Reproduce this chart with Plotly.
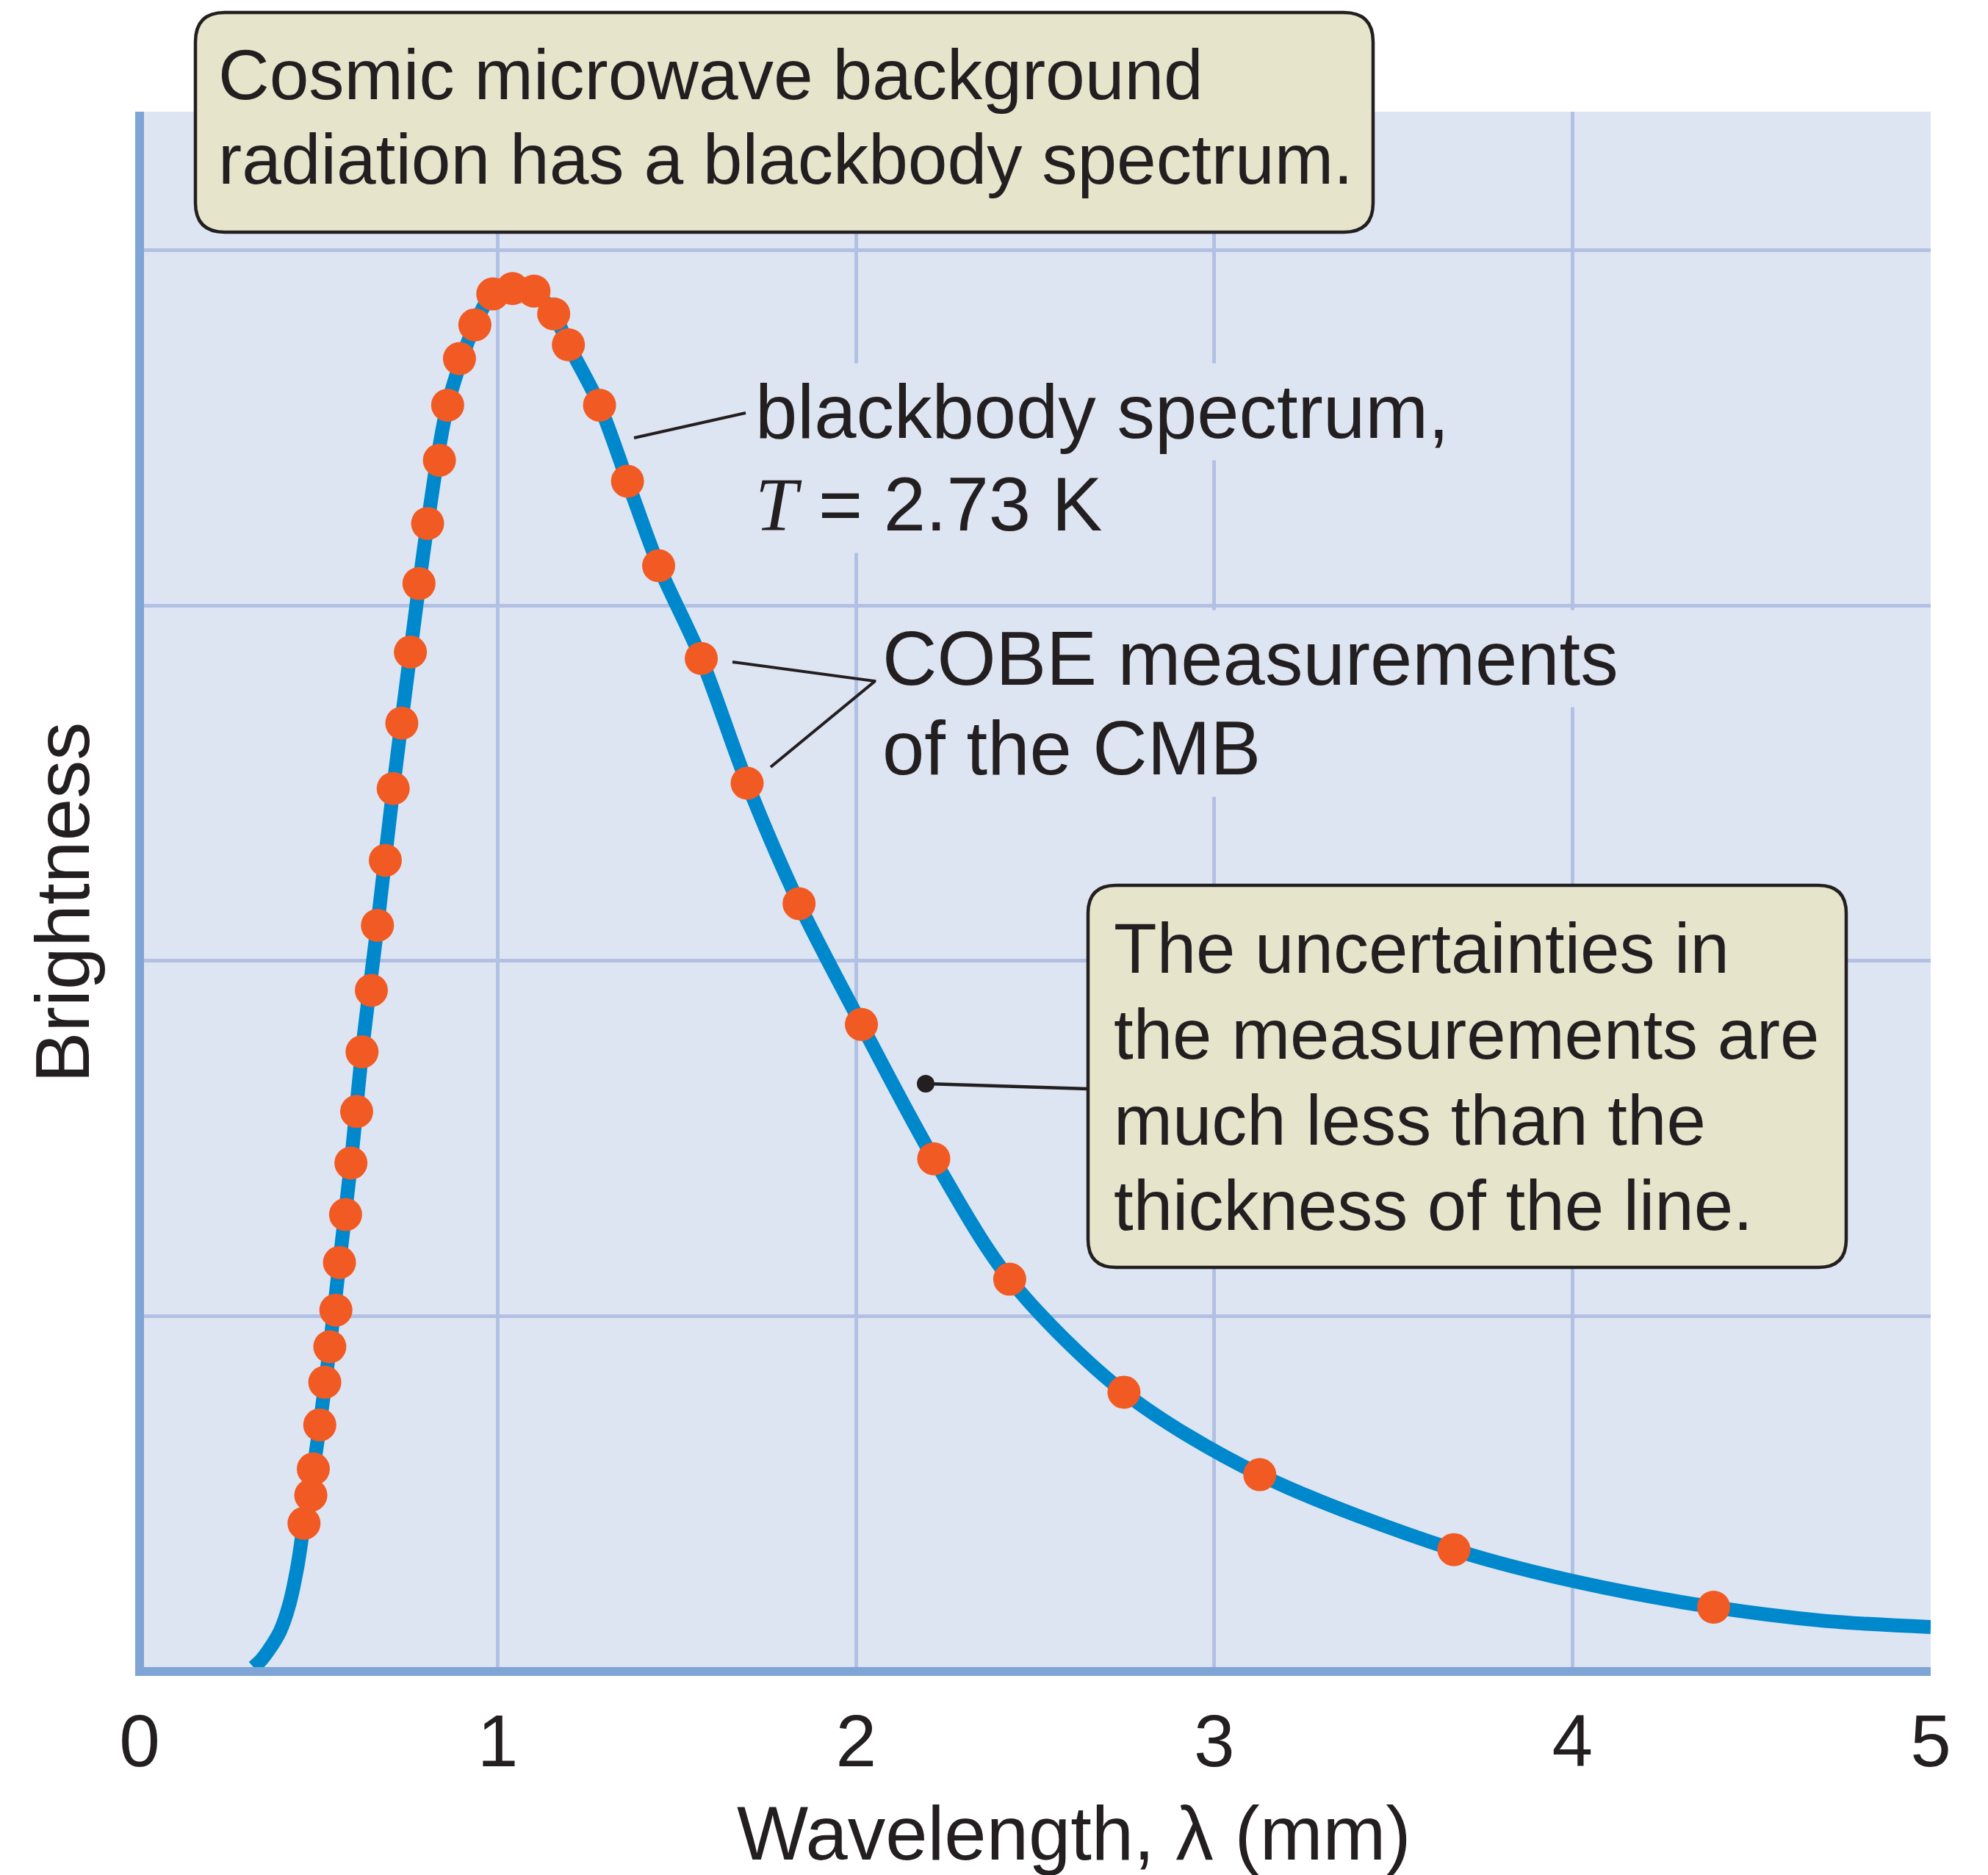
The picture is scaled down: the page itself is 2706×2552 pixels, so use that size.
import plotly.graph_objects as go

# ---------------- data ----------------
# COBE measurements (wavelength in mm, brightness in arbitrary grid units)
cobe_x = [0.459, 0.478, 0.485, 0.503, 0.517, 0.531, 0.548, 0.558, 0.575, 0.590,
          0.606, 0.621, 0.647, 0.664, 0.686, 0.708, 0.732, 0.756, 0.780, 0.804,
          0.837, 0.860, 0.893, 0.936, 0.986, 1.041, 1.101, 1.156, 1.197, 1.284,
          1.362, 1.449, 1.568, 1.696, 1.841, 2.015, 2.217, 2.429, 2.748, 3.127,
          3.669, 4.394]
cobe_y = [0.417, 0.496, 0.570, 0.694, 0.814, 0.914, 1.017, 1.151, 1.286, 1.431,
          1.576, 1.744, 1.917, 2.100, 2.283, 2.485, 2.669, 2.869, 3.062, 3.231,
          3.409, 3.564, 3.695, 3.790, 3.877, 3.892, 3.885, 3.821, 3.734, 3.564,
          3.350, 3.112, 2.851, 2.500, 2.161, 1.821, 1.443, 1.104, 0.786, 0.554,
          0.343, 0.181]

# blackbody spectrum curve, T = 2.73 K
curve_x = [0.318, 0.340, 0.359, 0.392, 0.418, 0.440, 0.459, 0.482, 0.503, 0.531,
           0.558, 0.590, 0.621, 0.664, 0.708, 0.756, 0.804, 0.860, 0.936, 0.986,
           1.041, 1.101, 1.156, 1.197, 1.284, 1.362, 1.449, 1.568, 1.696, 1.841,
           2.015, 2.217, 2.429, 2.748, 3.127, 3.669, 4.022, 4.394, 4.698, 5.000]
curve_y = [0.012, 0.033, 0.058, 0.113, 0.189, 0.292, 0.417, 0.550, 0.694, 0.914,
           1.151, 1.431, 1.744, 2.100, 2.485, 2.869, 3.231, 3.564, 3.790, 3.877,
           3.895, 3.885, 3.821, 3.734, 3.564, 3.350, 3.112, 2.851, 2.500, 2.161,
           1.821, 1.443, 1.104, 0.786, 0.554, 0.343, 0.250, 0.181, 0.143, 0.125]

x_tick_vals = [0, 1, 2, 3, 4, 5]
x_tick_text = ["0", "1", "2", "3", "4", "5"]

# ---------------- styling ----------------
FONT = "Liberation Sans, Arial, Helvetica, sans-serif"
TXT = "#231f20"
PLOT_BG = "#dde4f2"
GRID = "#b2c1e3"
AXIS = "#7fa5d7"
LINE = "#0088cd"
DOT = "#f15a22"
BOX = "#e6e4cb"

FIG_W, FIG_H = 2706, 2552
L, R, T, B = 190, 2628, 152, 2275


def px(x):
    return (x - L) / (R - L)


def py(y):
    return (B - y) / (B - T)


def rrect(x0, y0, x1, y1, r):
    return (f"M {px(x0 + r)},{py(y0)} L {px(x1 - r)},{py(y0)} "
            f"Q {px(x1)},{py(y0)} {px(x1)},{py(y0 + r)} "
            f"L {px(x1)},{py(y1 - r)} Q {px(x1)},{py(y1)} {px(x1 - r)},{py(y1)} "
            f"L {px(x0 + r)},{py(y1)} Q {px(x0)},{py(y1)} {px(x0)},{py(y1 - r)} "
            f"L {px(x0)},{py(y0 + r)} Q {px(x0)},{py(y0)} {px(x0 + r)},{py(y0)} Z")


fig = go.Figure()
fig.add_trace(go.Scatter(x=curve_x, y=curve_y, mode="lines",
                         line=dict(color=LINE, width=19, shape="spline", smoothing=0.9),
                         hoverinfo="skip", showlegend=False))
fig.add_trace(go.Scatter(x=cobe_x, y=cobe_y, mode="markers",
                         marker=dict(color=DOT, size=45, line=dict(width=0)),
                         showlegend=False))

shapes = []
# axis lines
shapes.append(dict(type="line", xref="paper", yref="paper", x0=px(185), x1=1,
                   y0=0, y1=0, line=dict(color=AXIS, width=12)))
shapes.append(dict(type="line", xref="paper", yref="paper", x0=0, x1=0,
                   y0=py(2281), y1=1, line=dict(color=AXIS, width=12)))
# callout boxes
shapes.append(dict(type="path", xref="paper", yref="paper",
                   path=rrect(266, 17, 1869, 316, 40), fillcolor=BOX,
                   line=dict(color=TXT, width=4.5)))
shapes.append(dict(type="path", xref="paper", yref="paper",
                   path=rrect(1481, 1205, 2513, 1725, 38), fillcolor=BOX,
                   line=dict(color=TXT, width=4.5)))
# leader lines
shapes.append(dict(type="line", xref="paper", yref="paper",
                   x0=px(863), y0=py(596), x1=px(1015), y1=py(562),
                   line=dict(color=TXT, width=4)))
shapes.append(dict(type="path", xref="paper", yref="paper",
                   path=f"M {px(997)},{py(901)} L {px(1191)},{py(927)} L {px(1049)},{py(1044)}",
                   line=dict(color=TXT, width=4)))
shapes.append(dict(type="line", xref="paper", yref="paper",
                   x0=px(1260), y0=py(1475), x1=px(1481), y1=py(1482),
                   line=dict(color=TXT, width=4.5)))
shapes.append(dict(type="circle", xref="paper", yref="paper",
                   x0=px(1248), x1=px(1272), y0=py(1463), y1=py(1487),
                   fillcolor=TXT, line=dict(color=TXT, width=0)))

ann = []


def text_line(txt, x, y, size=96, bg=None, anchor="left"):
    d = dict(text=txt, xref="paper", yref="paper", x=px(x), y=py(y),
             xanchor=anchor, yanchor="middle", showarrow=False,
             font=dict(family=FONT, size=size, color=TXT), align="left")
    if bg:
        d.update(bgcolor=bg, borderpad=8)
    return d


ann.append(text_line("Cosmic microwave background", 295, 101, 96.5))
ann.append(text_line("radiation has a blackbody spectrum.", 295, 216.5, 96.5))
ann.append(text_line("blackbody spectrum,", 1019, 561, 103, PLOT_BG))
ann.append(text_line("<i><span style=\"font-family:Liberation Serif\">T</span></i> = 2.73 K",
                     1019, 686, 103, PLOT_BG))
ann.append(text_line("COBE measurements", 1192, 896, 103, PLOT_BG))
ann.append(text_line("of the CMB", 1192, 1018, 103, PLOT_BG))
ann.append(text_line("The uncertainties in", 1514, 1290, 96))
ann.append(text_line("the measurements are", 1514, 1407, 96))
ann.append(text_line("much less than the", 1514, 1524, 96))
ann.append(text_line("thickness of the line.", 1514, 1640, 96))
# axis titles
ann.append(dict(text="Wavelength, λ (mm)", xref="paper", yref="paper",
                x=px(1462), y=py(2495), xanchor="center", yanchor="middle",
                showarrow=False, font=dict(family=FONT, size=103, color=TXT)))
ann.append(dict(text="Brightness", xref="paper", yref="paper",
                x=px(85), y=py(1229), xanchor="center", yanchor="middle",
                textangle=-90, showarrow=False,
                font=dict(family=FONT, size=104, color=TXT)))

fig.update_layout(
    width=FIG_W, height=FIG_H, autosize=False,
    margin=dict(l=L, r=FIG_W - R, t=T, b=FIG_H - B, pad=0),
    paper_bgcolor="white", plot_bgcolor=PLOT_BG,
    shapes=shapes, annotations=ann, showlegend=False,
    xaxis=dict(range=[0, 5], tickvals=x_tick_vals, ticktext=x_tick_text,
               showgrid=True, gridcolor=GRID, gridwidth=5, zeroline=False,
               showline=False, ticks="", ticklabelstandoff=28,
               tickfont=dict(family=FONT, size=100, color=TXT), fixedrange=True),
    yaxis=dict(range=[0, 4.39], tick0=0, dtick=1, showgrid=True, gridcolor=GRID,
               gridwidth=5, zeroline=False, showline=False, ticks="",
               showticklabels=False, fixedrange=True),
)

fig.write_html("out.html", include_plotlyjs=True, config={"displayModeBar": False})
